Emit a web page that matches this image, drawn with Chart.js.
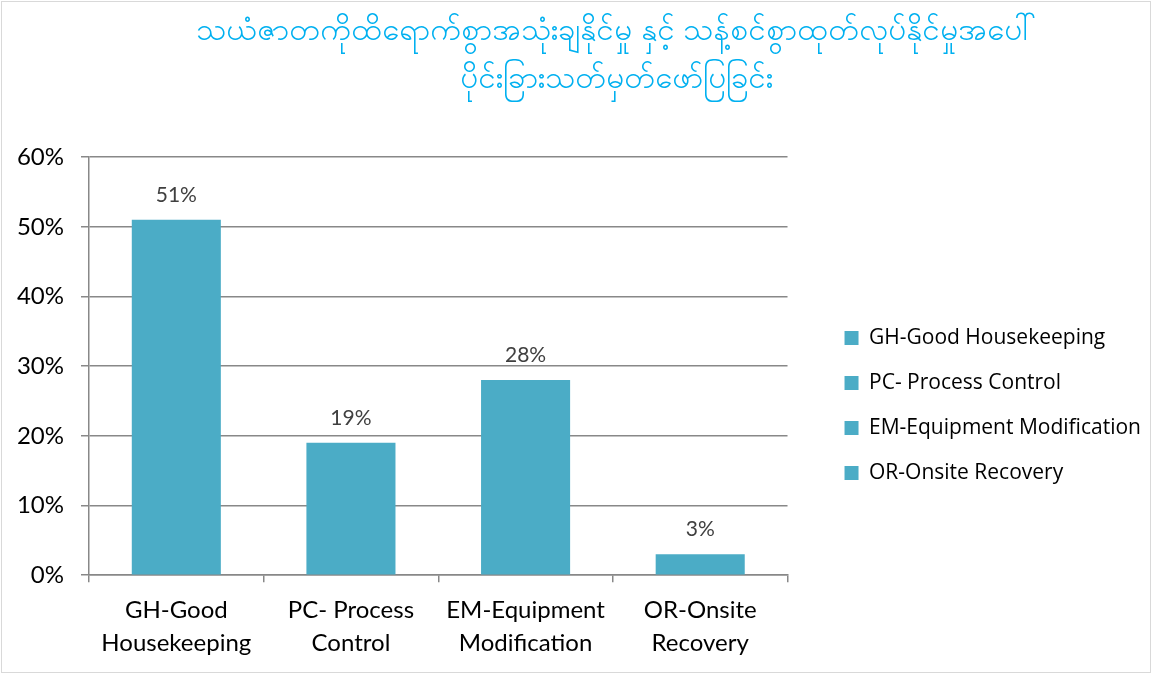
<!DOCTYPE html>
<html>
<head>
<meta charset="utf-8">
<script src="https://cdn.jsdelivr.net/npm/chart.js@4.4.1/dist/chart.umd.min.js"></script>
<style>
  html, body { margin: 0; padding: 0; background: #fff; }
  #wrap { position: relative; width: 1148px; height: 670px; margin: 1px; border: 1px solid #d9d9d9; }
</style>
</head>
<body>
<div id="wrap"><canvas id="chart"></canvas></div>
<script>
// chart data
const TITLE = ['သယံဇာတကိုထိရောက်စွာအသုံးချနိုင်မှု နှင့် သန့်စင်စွာထုတ်လုပ်နိုင်မှုအပေါ်', 'ပိုင်းခြားသတ်မှတ်ဖော်ပြခြင်း'];
const CATEGORIES = [['GH-Good', 'Housekeeping'], ['PC- Process', 'Control'], ['EM-Equipment', 'Modification'], ['OR-Onsite', 'Recovery']];
const LEGEND_NAMES = ['GH-Good Housekeeping', 'PC- Process Control', 'EM-Equipment Modification', 'OR-Onsite Recovery'];
const VALUES = [0.51, 0.19, 0.28, 0.03];
const Y_TICKS = [0, 0.1, 0.2, 0.3, 0.4, 0.5, 0.6];

const BAR = '#4bacc6';

// value labels drawn above each bar
const barLabels = {
  id: 'barLabels',
  afterDatasetsDraw(chart) {
    const { ctx } = chart;
    const meta = chart.getDatasetMeta(0);
    ctx.save();
    ctx.font = '21px Lato, "Open Sans", sans-serif';
    ctx.fillStyle = '#404040';
    ctx.textAlign = 'center';
    ctx.textBaseline = 'middle';
    meta.data.forEach((bar, i) => {
      ctx.fillText(Math.round(VALUES[i] * 100) + '%', bar.x, bar.y - 25);
    });
    ctx.restore();
  }
};

// nudge legend and title blocks to where the original has them
const blockShift = {
  id: 'blockShift',
  afterLayout(chart) {
    const lg = chart.legend;
    const dx = chart.chartArea.right + 57 - 24 - lg.left;
    lg.left += dx; lg.right += dx;
    lg.top += 69; lg.bottom += 69;
    const t = chart.titleBlock;
    t.left += 56; t.right += 56;
  }
};

new Chart(document.getElementById('chart'), {
  type: 'bar',
  data: {
    labels: CATEGORIES,
    datasets: [{
      data: VALUES,
      backgroundColor: BAR,
      barPercentage: 0.51,
      categoryPercentage: 1,
    }],
  },
  options: {
    responsive: true, maintainAspectRatio: false, animation: false,
    layout: { padding: { left: 0, right: 32, bottom: 1 } },
    plugins: {
      title: {
        display: true, text: TITLE, color: '#00b0f0',
        font: { family: '"Noto Sans", sans-serif', size: 31, weight: 'normal', lineHeight: 1.55 },
        padding: { top: 5, bottom: 54 },
      },
      legend: {
        position: 'right', maxWidth: 400,
        labels: {
          color: '#595959', boxWidth: 14, boxHeight: 14, padding: 24,
          font: { family: '"Open Sans", sans-serif', size: 21 },
          generateLabels: () => LEGEND_NAMES.map((name, i) => ({
            text: name, fillStyle: BAR, strokeStyle: BAR, lineWidth: 0, index: i,
          })),
        },
      },
      tooltip: { enabled: false },
    },
    scales: {
      x: {
        grid: { drawOnChartArea: false, color: '#888', lineWidth: 1.5, tickLength: 7 },
        border: { color: '#888', width: 1.5 },
        ticks: { color: '#000', font: { family: 'Lato, sans-serif', size: 24, lineHeight: 1.35 }, padding: 12 },
      },
      y: {
        min: 0, max: 0.6,
        afterBuildTicks: axis => { axis.ticks = Y_TICKS.map(v => ({ value: v })); },
        afterFit: axis => { axis.width = 87; },
        grid: { color: '#888', lineWidth: 1.5, tickLength: 8 },
        border: { color: '#888', width: 1.5 },
        ticks: {
          color: '#000', font: { family: 'Lato, sans-serif', size: 24 }, padding: 17,
          callback: v => Math.round(v * 100) + '%',
        },
      },
    },
  },
  plugins: [barLabels, blockShift],
});
</script>
</body>
</html>
